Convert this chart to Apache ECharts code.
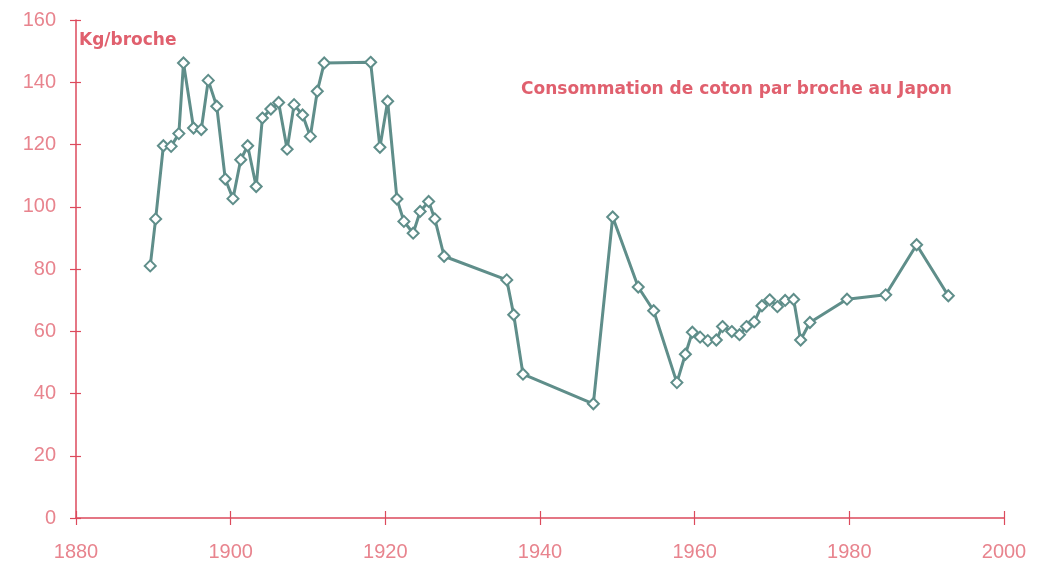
<!DOCTYPE html>
<html>
<head>
<meta charset="utf-8">
<script src="https://cdn.jsdelivr.net/npm/echarts@6/dist/echarts.min.js"></script>
<style>
  html, body { margin: 0; padding: 0; background: #fff; }
  #chart { width: 1038px; height: 563px; }
</style>
</head>
<body>
<div id="chart"></div>
<script>
// Consommation de coton par broche (kg)
const years = [
  1889.6, 1890.3, 1891.3, 1892.3, 1893.3, 1893.9, 1895.2, 1896.2, 1897.1, 1898.2,
  1899.3, 1900.3, 1901.3, 1902.2, 1903.3, 1904.1, 1905.2, 1906.2, 1907.3, 1908.2,
  1909.3, 1910.3, 1911.2, 1912.1, 1918.1, 1919.3, 1920.3, 1921.5, 1922.4, 1923.6,
  1924.5, 1925.6, 1926.4, 1927.6, 1935.7, 1936.6, 1937.8, 1946.9, 1949.4, 1952.7,
  1954.7, 1957.7, 1958.8, 1959.7, 1960.7, 1961.7, 1962.8, 1963.6, 1964.8, 1965.8,
  1966.7, 1967.7, 1968.7, 1969.7, 1970.7, 1971.7, 1972.8, 1973.7, 1974.9, 1979.7,
  1984.7, 1988.7, 1992.8
];
const kgPerSpindle = [
  81.0, 96.1, 119.6, 119.4, 123.5, 146.2, 125.3, 124.8, 140.6, 132.3,
  108.9, 102.6, 115.1, 119.6, 106.5, 128.5, 131.4, 133.5, 118.5, 132.8,
  129.5, 122.6, 137.1, 146.2, 146.4, 119.1, 133.9, 102.5, 95.3, 91.5,
  98.5, 101.7, 96.1, 84.1, 76.5, 65.3, 46.2, 36.7, 96.7, 74.2,
  66.6, 43.5, 52.6, 59.7, 58.1, 57.0, 57.2, 61.5, 59.9, 58.9,
  61.5, 63.0, 68.2, 70.1, 67.9, 69.9, 70.2, 57.2, 62.8, 70.3,
  71.7, 87.8, 71.4
];
const xTicks = [1880, 1900, 1920, 1940, 1960, 1980, 2000];
const yTicks = [0, 20, 40, 60, 80, 100, 120, 140, 160];

const axisRed = '#dc4a5c';
const labelPink = '#e8848e';
const lineTeal = '#5f8e8a';

const chart = echarts.init(document.getElementById('chart'));

const xBase = {
  type: 'value',
  min: xTicks[0], max: xTicks[xTicks.length - 1], interval: 20,
  splitLine: { show: false }
};
const yBase = {
  type: 'value',
  min: yTicks[0], max: yTicks[yTicks.length - 1], interval: 20,
  splitLine: { show: false }
};
const tickStyle = { color: axisRed, width: 1.2 };

chart.setOption({
  animation: false,
  backgroundColor: '#ffffff',
  title: [
    {
      text: 'Kg/broche',
      left: 74, top: 27,
      textStyle: { color: '#e0606e', fontFamily: 'DejaVu Sans', fontSize: 17, fontWeight: 'bold' }
    },
    {
      text: 'Consommation de coton par broche au Japon',
      left: 516, top: 76,
      textStyle: { color: '#e0606e', fontFamily: 'DejaVu Sans', fontSize: 17, fontWeight: 'bold' }
    }
  ],
  grid: { left: 76, right: 34, top: 20, bottom: 45 },
  xAxis: [
    Object.assign({}, xBase, {
      axisLine: { lineStyle: { color: axisRed, width: 1.5 } },
      axisTick: { show: true, length: 7, lineStyle: tickStyle },
      axisLabel: {
        color: labelPink, fontFamily: 'Liberation Sans', fontSize: 20, margin: 24,
        formatter: v => String(v)
      }
    }),
    // ticks qui traversent l'axe (partie intérieure)
    Object.assign({}, xBase, {
      position: 'bottom',
      axisLine: { show: false },
      axisTick: { show: true, inside: true, length: 7, lineStyle: tickStyle },
      axisLabel: { show: false }
    })
  ],
  yAxis: [
    Object.assign({}, yBase, {
      axisLine: { show: true, lineStyle: { color: axisRed, width: 1.5 } },
      axisTick: { show: true, length: 6, lineStyle: tickStyle },
      axisLabel: { color: labelPink, fontFamily: 'Liberation Sans', fontSize: 20, margin: 20 }
    }),
    Object.assign({}, yBase, {
      position: 'left',
      axisLine: { show: false },
      axisTick: { show: true, inside: true, length: 5, lineStyle: tickStyle },
      axisLabel: { show: false }
    })
  ],
  series: [{
    type: 'line',
    data: years.map((y, i) => [y, kgPerSpindle[i]]),
    symbol: 'diamond',
    symbolSize: 11,
    showAllSymbol: true,
    lineStyle: { color: lineTeal, width: 3 },
    itemStyle: { color: '#ffffff', borderColor: lineTeal, borderWidth: 2 }
  }]
});

window.addEventListener('resize', () => chart.resize());
</script>
</body>
</html>
